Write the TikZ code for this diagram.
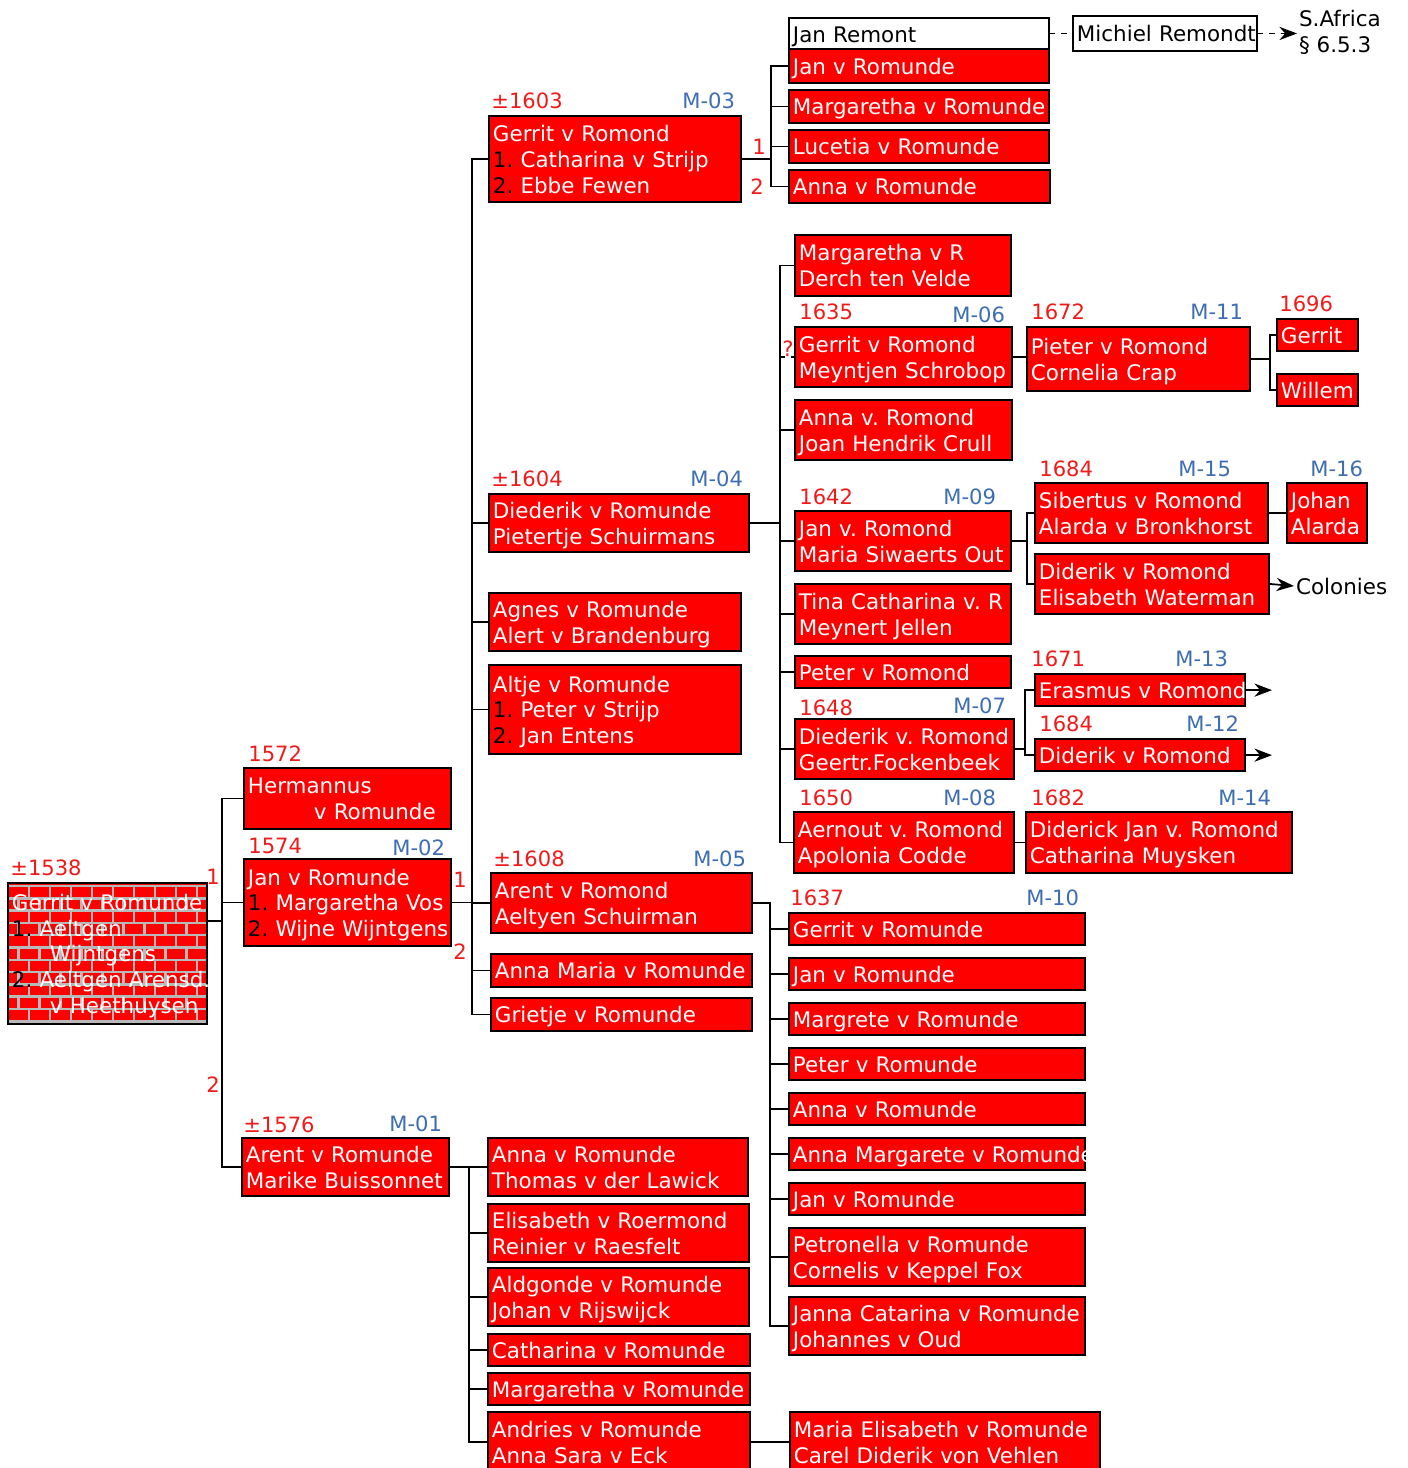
\documentclass[tikz,border=0pt]{standalone}
\usepackage{fontspec}
\usetikzlibrary{arrows.meta}
\newfontfamily\famfont{DejaVu Sans}
\definecolor{mblue}{HTML}{3D6EB4}
\definecolor{yred}{HTML}{F01A1A}
\newdimen\px \px=0.02cm
\newcommand{\wn}[1]{\textcolor{black}{#1}}
\newcommand{\plines}[1]{\begin{tabular}{@{}l@{}}\rule{0pt}{14pt}#1\end{tabular}}
\newcommand{\boxfont}{\famfont\fontsize{12.2}{14.7}\selectfont\frenchspacing}
\newcommand{\labfont}{\famfont\fontsize{12}{14}\selectfont}

\begin{document}
\begin{tikzpicture}[x=0.02cm, y=-0.02cm, >={Stealth[length=10pt,width=7.5pt]},
    pers/.style 2 args={draw, line width=1.1pt, fill=red, text=white, font=\boxfont,
      anchor=north west, inner xsep=0.08cm, inner ysep=0pt,
      text width={(#1-8)*\px}, minimum height={#2*\px}},
    wbox/.style 2 args={pers={#1}{#2}, fill=white, text=black},
    brick/.style={path picture={
      \foreach \rw in {0,...,11}{
        \draw[gray!55, line width=1.4pt] (path picture bounding box.north west) ++(0,{\rw*12.3+3}) -- ++(210,0);
        \foreach \cl in {0,...,10}
          \draw[gray!55, line width=1.4pt] (path picture bounding box.north west) ++({\cl*21+mod(\rw,2)*10.5},{\rw*12.3+3}) -- ++(0,12.3);
      }}},
    yr/.style={text=yred, font=\labfont, anchor=base west, inner sep=0pt},
    mk/.style={text=mblue, font=\labfont, anchor=base west, inner sep=0pt},
    nr/.style={text=yred, font=\labfont, inner sep=0pt},
    note/.style={text=black, font=\boxfont, anchor=west, inner sep=1pt, align=left},
    lnk/.style={line width=1pt},
    dsh/.style={dash pattern=on 3pt off 3.5pt}]
\useasboundingbox (0,0) rectangle (1408,1468);

% first generations
\node[pers={199}{141}, brick] (root) at (7,882) {\plines{Gerrit v Romunde\\
  \wn{1.} Aeltgen\\ \hspace*{38\px}Wijntgens\\
  \wn{2.} Aeltgen Arensd.\\ \hspace*{38\px}v Heethuysen}};
\node[pers={207}{61}] (herm) at (243,767) {\plines{Hermannus\\ \hspace*{66\px}v Romunde}};
\node[pers={207}{87}] (jan2) at (243,858) {\plines{Jan v Romunde\\ \wn{1.} Margaretha Vos\\ \wn{2.} Wijne Wijntgens}};
\node[pers={207}{58}] (arent1) at (241,1137) {\plines{Arent v Romunde\\ Marike Buissonnet}};

% children of Jan (M-02)
\node[pers={252}{86}] (gerrit3) at (488,115) {\plines{Gerrit v Romond\\ \wn{1.} Catharina v Strijp\\ \wn{2.} Ebbe Fewen}};
\node[pers={260}{57}] (died4) at (488,493) {\plines{Diederik v Romunde\\ Pietertje Schuirmans}};
\node[pers={252}{58}] (agnes) at (488,592) {\plines{Agnes v Romunde\\ Alert v Brandenburg}};
\node[pers={252}{89}] (altje) at (488,664) {\plines{Altje v Romunde\\ \wn{1.} Peter v Strijp\\ \wn{2.} Jan Entens}};
\node[pers={261}{60}] (arent5) at (490,872) {\plines{Arent v Romond\\ Aeltyen Schuirman}};
\node[pers={261}{33}] (annamaria) at (490,953) {\plines{Anna Maria v Romunde}};
\node[pers={261}{33}] (grietje) at (490,997) {\plines{Grietje v Romunde}};

% children of Arent (M-01)
\node[pers={260}{58}] (annaL) at (487,1137) {\plines{Anna v Romunde\\ Thomas v der Lawick}};
\node[pers={261}{58}] (elis) at (487,1203) {\plines{Elisabeth v Roermond\\ Reinier v Raesfelt}};
\node[pers={261}{58}] (aldg) at (487,1267) {\plines{Aldgonde v Romunde\\ Johan v Rijswijck}};
\node[pers={262}{31}] (cath) at (487,1333) {\plines{Catharina v Romunde}};
\node[pers={262}{32}] (margA) at (487,1372) {\plines{Margaretha v Romunde}};
\node[pers={262}{60}] (andries) at (487,1411) {\plines{Andries v Romunde\\ Anna Sara v Eck}};
\node[pers={310}{60}] (mariaE) at (789,1411) {\plines{Maria Elisabeth v Romunde\\ Carel Diderik von Vehlen}};

% children of Gerrit (M-03)
\node[wbox={260}{31}] (remont) at (788,17) {\plines{Jan Remont}};
\node[pers={260}{34}] (jan3) at (788,48) {\plines{Jan v Romunde}};
\node[pers={260}{33}] (marg3) at (788,89) {\plines{Margaretha v Romunde}};
\node[pers={260}{33}] (luce) at (788,129) {\plines{Lucetia v Romunde}};
\node[pers={261}{33}] (anna3) at (788,169) {\plines{Anna v Romunde}};
\node[wbox={184}{35}] (michiel) at (1072,15) {\plines{Michiel Remondt}};
\node[note] (safrica) at (1297,32) {S.Africa\\ § 6.5.3};

% children of Diederik (M-04)
\node[pers={216}{61}] (margR) at (794,234) {\plines{Margaretha v R\\ Derch ten Velde}};
\node[pers={217}{60}] (gerrit6) at (794,326) {\plines{Gerrit v Romond\\ Meyntjen Schrobop}};
\node[pers={217}{60}] (annaC) at (794,399) {\plines{Anna v. Romond\\ Joan Hendrik Crull}};
\node[pers={216}{60}] (jan9) at (794,510) {\plines{Jan v. Romond\\ Maria Siwaerts Out}};
\node[pers={216}{60}] (tina) at (794,583) {\plines{Tina Catharina v. R\\ Meynert Jellen}};
\node[pers={216}{31}] (peter) at (794,655) {\plines{Peter v Romond}};
\node[pers={219}{60}] (died7) at (794,718) {\plines{Diederik v. Romond\\ Geertr.Fockenbeek}};
\node[pers={220}{61}] (aern8) at (793,811) {\plines{Aernout v. Romond\\ Apolonia Codde}};

\node[pers={223}{64}] (pieter11) at (1026,326) {\plines{Pieter v Romond\\ Cornelia Crap}};
\node[pers={81}{31}] (gerritS) at (1276,318) {\plines{Gerrit}};
\node[pers={81}{31}] (willem) at (1276,373) {\plines{Willem}};
\node[pers={233}{60}] (sib15) at (1034,482) {\plines{Sibertus v Romond\\ Alarda v Bronkhorst}};
\node[pers={80}{60}] (johan16) at (1286,482) {\plines{Johan\\ Alarda}};
\node[pers={234}{60}] (diderikC) at (1034,553) {\plines{Diderik v Romond\\ Elisabeth Waterman}};
\node[note] (colonies) at (1294,586) {Colonies};
\node[pers={210}{32}] (erasmus13) at (1034,673) {\plines{Erasmus v Romond}};
\node[pers={210}{31}] (diderik12) at (1034,738) {\plines{Diderik v Romond}};
\node[pers={266}{61}] (dj14) at (1025,811) {\plines{Diderick Jan v. Romond\\ Catharina Muysken}};
\coordinate (e13) at (1272,689);
\coordinate (e12) at (1272,754);

% children of Arent (M-05)
\node[pers={296}{31}] (g10) at (788,912) {\plines{Gerrit v Romunde}};
\node[pers={296}{32}] (jan10) at (788,957) {\plines{Jan v Romunde}};
\node[pers={296}{32}] (margr10) at (788,1002) {\plines{Margrete v Romunde}};
\node[pers={296}{32}] (peter10) at (788,1047) {\plines{Peter v Romunde}};
\node[pers={296}{32}] (anna10) at (788,1092) {\plines{Anna v Romunde}};
\node[pers={296}{32}] (annaM10) at (788,1137) {\plines{Anna Margarete v Romunde}};
\node[pers={296}{32}] (jan10b) at (788,1182) {\plines{Jan v Romunde}};
\node[pers={296}{58}] (petro) at (788,1227) {\plines{Petronella v Romunde\\ Cornelis v Keppel Fox}};
\node[pers={296}{58}] (janna) at (788,1296) {\plines{Janna Catarina v Romunde\\ Johannes v Oud}};

% years and numbers
\node[yr] (y1538) at (10,875) {±1538};
\node[yr] (y1572) at (248,761) {1572};
\node[yr] (y1574) at (248,853) {1574};
\node[mk] (m02) at (392,855) {M-02};
\node[yr] (y1576) at (243,1132) {±1576};
\node[mk] (m01) at (389,1131) {M-01};
\node[yr] (y1603) at (491,108) {±1603};
\node[mk] (m03) at (682,108) {M-03};
\node[yr] (y1604) at (491,486) {±1604};
\node[mk] (m04) at (690,486) {M-04};
\node[yr] (y1608) at (493,866) {±1608};
\node[mk] (m05) at (693,866) {M-05};
\node[yr] (y1635) at (799,319) {1635};
\node[mk] (m06) at (952,322) {M-06};
\node[yr] (y1642) at (799,504) {1642};
\node[mk] (m09) at (943,504) {M-09};
\node[yr] (y1648) at (799,715) {1648};
\node[mk] (m07) at (953,713) {M-07};
\node[yr] (y1650) at (799,805) {1650};
\node[mk] (m08) at (943,805) {M-08};
\node[yr] (y1672) at (1031,319) {1672};
\node[mk] (m11) at (1190,319) {M-11};
\node[yr] (y1696) at (1279,311) {1696};
\node[yr] (y1684a) at (1039,476) {1684};
\node[mk] (m15) at (1178,476) {M-15};
\node[mk] (m16) at (1310,476) {M-16};
\node[yr] (y1671) at (1031,666) {1671};
\node[mk] (m13) at (1175,666) {M-13};
\node[yr] (y1684b) at (1039,731) {1684};
\node[mk] (m12) at (1186,731) {M-12};
\node[yr] (y1682) at (1031,805) {1682};
\node[mk] (m14) at (1218,805) {M-14};
\node[yr] (y1637) at (790,905) {1637};
\node[mk] (m10) at (1026,905) {M-10};

\node[nr] (n1a) at (213,877) {1};
\node[nr] (n2a) at (213,1085) {2};
\node[nr] (n1b) at (460,880) {1};
\node[nr] (n2b) at (460,952) {2};
\node[nr] (n1c) at (759,147) {1};
\node[nr] (n2c) at (757,187) {2};
\node[nr] (qm) at (788,349) {?};

% connectors
\coordinate (t0) at (222,921);
\draw[lnk] (root.east |- t0) -- (t0);
\draw[lnk] (herm.west) -| (t0) |- (arent1.west);
\draw[lnk] (jan2.west) -- (jan2.west -| t0);

\draw[lnk] (jan2.east) -- ++(20,0) coordinate (t2);
\draw[lnk] (gerrit3.west) -| (t2) |- (grietje.west);
\foreach \n in {died4,agnes,altje,arent5,annamaria}
  \draw[lnk] (\n.west) -- (\n.west -| t2);

\draw[lnk] (arent1.east) -- ++(19,0) coordinate (t1) |- (andries.west);
\foreach \n in {annaL,elis,aldg,cath,margA}
  \draw[lnk] (\n.west) -- (\n.west -| t1);
\draw[lnk] (andries.east) -- (mariaE.west);

\draw[lnk] (gerrit3.east) -- ++(29,0) coordinate (t3);
\draw[lnk] (jan3.west) -| (t3) |- (anna3.west);
\foreach \n in {marg3,luce}
  \draw[lnk] (\n.west) -- (\n.west -| t3);
\draw[lnk,dsh] (remont.east |- michiel.west) -- (michiel.west);
\draw[lnk,dsh,->] (michiel.east) -- (michiel.east -| safrica.west);

\draw[lnk] (died4.east) -- ++(30,0) coordinate (t4);
\draw[lnk] (margR.west) -| (t4) |- (aern8.west);
\foreach \n in {annaC,jan9,tina,peter,died7}
  \draw[lnk] (\n.west) -- (\n.west -| t4);
\draw[lnk,dsh] (gerrit6.west -| t4) -- (gerrit6.west);

\draw[lnk] (gerrit6.east) -- (gerrit6.east -| pieter11.west);
\draw[lnk] (pieter11.east) -- ++(19,0) coordinate (t11);
\draw[lnk] (gerritS.west) -| (t11) |- (willem.west);

\draw[lnk] (jan9.east) -- ++(15,0) coordinate (t9);
\draw[lnk] (sib15.west) -| (t9) |- (diderikC.west);
\draw[lnk] (sib15.east) -- (johan16.west);
\draw[lnk,->] (diderikC.east) -- (colonies.west);

\draw[lnk] (died7.east) -- ++(10,0) coordinate (t7);
\draw[lnk] (erasmus13.west) -| (t7) |- (diderik12.west);
\draw[lnk,->] (erasmus13.east) -- (erasmus13.east -| e13);
\draw[lnk,->] (diderik12.east) -- (diderik12.east -| e12);

\draw[lnk] (aern8.east) -- (aern8.east -| dj14.west);

\draw[lnk] (arent5.east) -- ++(17,0) coordinate (t5) |- (janna.west);
\foreach \n in {g10,jan10,margr10,peter10,anna10,annaM10,jan10b,petro}
  \draw[lnk] (\n.west) -- (\n.west -| t5);
\end{tikzpicture}
\end{document}
